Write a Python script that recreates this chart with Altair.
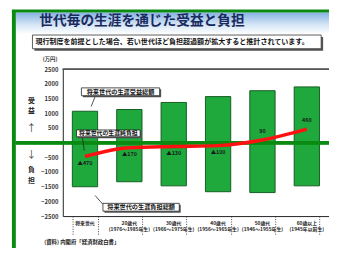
import altair as alt
import pandas as pd

# ---- data ----
categories = ["将来世代", "20歳代", "30歳代", "40歳代", "50歳代", "60歳以上"]
births = ["", "(1976～1985年生)", "(1966～1975年生)", "(1956～1965年生)", "(1946～1955年生)", "(1945年以前生)"]
benefit = [1070, 1130, 1370, 1570, 1770, 1900]
burden = [-1500, -1330, -1470, -1670, -1700, -1470]
net = [-470, -170, -130, -100, 90, 460]
y_ticks = [2500, 2000, 1500, 1000, 500, -500, -1000, -1500, -2000, -2500]

title_text = "世代毎の生涯を通じた受益と負担"
subtitle_text = "現行制度を前提とした場合、若い世代ほど負担超過額が拡大すると推計されています。"
unit_text = "(万円)"
callout_benefit = "将来世代の生涯受益総額"
callout_net = "将来世代の生涯純負担"
callout_burden = "将来世代の生涯負担総額"
footnote_text = "(資料) 内閣府「経済財政白書」"

FONT = "Noto Sans CJK JP"

def fmt(v):
    return ("▲" + str(abs(v))) if v < 0 else str(v)

df = pd.DataFrame({
    "cat": categories,
    "label": [c + ("|" + b if b else "") for c, b in zip(categories, births)],
    "benefit": benefit,
    "burden": burden,
    "net": net,
    "netlabel": [fmt(v) for v in net],
})
one = pd.DataFrame({"k": [0]})

W, H = 272, 150
xaxis = alt.Axis(labels=False, title=None, tickBand="extent", tickSize=20,
                 tickDash=[1, 1.5], tickColor="#444444", domainColor="#222222", grid=False)
xscale = alt.Scale(paddingInner=0.43, paddingOuter=0.215)
yaxis = alt.Axis(values=y_ticks, title=None, ticks=False, grid=False,
                 format="d", labelOverlap=False,
                 labelFontSize=6, labelFontWeight="bold", labelColor="#333333",
                 labelPadding=5, domainColor="#222222")
yscale = alt.Scale(domain=[-2500, 2500], nice=False, zero=False)

def X():
    return alt.X("cat:N", sort=categories, scale=xscale, axis=xaxis)

def Yf(field):
    return alt.Y(field, scale=yscale, axis=yaxis)

def Yd(v):
    return alt.Y(datum=v, scale=yscale, axis=yaxis)

def rect(x, x2, y, y2, **kw):
    return alt.Chart(one).mark_rect(**kw).encode(
        x=alt.value(x), x2=alt.value(x2), y=alt.value(y), y2=alt.value(y2))

def seg(x, x2, y, y2, **kw):
    return alt.Chart(one).mark_rule(**kw).encode(
        x=alt.value(x), x2=alt.value(x2), y=alt.value(y), y2=alt.value(y2))

def txt(s, x, y, **kw):
    return alt.Chart(one).mark_text(**kw).encode(
        x=alt.value(x), y=alt.value(y), text=alt.value(s))

# header & frame
header = rect(-48, 280, -58, -36,
              color=alt.LinearGradient(gradient="linear",
                                       stops=[alt.GradientStop(color="#86b3e2", offset=0),
                                              alt.GradientStop(color="#d3e4f5", offset=0.55),
                                              alt.GradientStop(color="#ffffff", offset=1)],
                                       x1=0, y1=0, x2=0, y2=1))
frame_left = seg(-50, -50, -60, 200, color="#0b8a12", strokeWidth=4)
frame_top = seg(-52, 300, -59.5, -59.5, color="#0b8a12", strokeWidth=3)
title = txt(title_text, -24, -49, align="left", baseline="middle", fontSize=14,
            fontWeight="bold", color="#1b2a5e")
sub_shadow = rect(-29, 266, -33, -19, color="#555555")
sub_box = rect(-31, 264, -35, -21, fill="white", stroke="#333333", strokeWidth=0.8)
subtitle = txt(subtitle_text, -28, -28, align="left", baseline="middle", fontSize=7.2,
               fontWeight="bold", color="#111111")

unit = txt(unit_text, -13, -10, align="center", baseline="middle", fontSize=5.5,
           fontWeight="bold", color="#333333")
vkw = dict(align="center", baseline="middle", fontSize=7, fontWeight="bold", color="#222222")
ben_1 = txt("受", -32, 32, **vkw)
ben_2 = txt("益", -32, 43, **vkw)
ben_arrow = txt("↑", -32, 61, align="center", baseline="middle", fontSize=10, color="#444444")
bur_arrow = txt("↓", -32, 88, align="center", baseline="middle", fontSize=10, color="#444444")
bur_1 = txt("負", -32, 103, **vkw)
bur_2 = txt("担", -32, 114, **vkw)

base = alt.Chart(df)
bars = base.mark_bar(color="#1fa83c", stroke="#145c22", strokeWidth=1).encode(
    x=X(), y=Yf("benefit:Q"), y2="burden:Q")
top_line = base.mark_rule(color="#555555", strokeWidth=1).encode(
    y=Yd(2500), x=alt.value(0), x2=alt.value(W + 4))
zero_line = base.mark_rule(color="#0b8a12", strokeWidth=3).encode(
    y=Yd(0), x=alt.value(-48), x2=alt.value(W + 10))
red_line = base.mark_line(color="#ff1111", strokeWidth=3.5, interpolate="monotone").encode(
    x=X(), y=Yf("net:Q"))
net_neg = base.transform_filter("datum.net < 0").mark_text(
    fontSize=5.5, fontWeight="bold", color="#1a1a1a", dy=7).encode(
    x=X(), y=Yf("net:Q"), text="netlabel:N")
net_pos = base.transform_filter("datum.net >= 0").mark_text(
    fontSize=5.5, fontWeight="bold", color="#1a1a1a", dy=-9).encode(
    x=X(), y=Yf("net:Q"), text="netlabel:N")
cat_labels = base.mark_text(lineBreak="|", lineHeight=6, fontSize=5, fontWeight="bold",
                            baseline="top", color="#222222").encode(
    x=X(), y=alt.value(H + 5), text="label:N")

# callouts
c1_line = seg(33, 29, 28, 38, color="#222222", strokeWidth=0.8)
c1_sh = rect(20.5, 100.5, 20.5, 28.5, color="#555555")
c1_box = rect(19, 99, 19, 27, fill="white", stroke="#222222", strokeWidth=0.8)
c1_txt = txt(callout_benefit, 59, 23, align="center", baseline="middle", fontSize=6.3,
             fontWeight="bold", color="#111111")
c2_line = seg(20, 22, 70, 83, color="#222222", strokeWidth=0.8)
c2_sh = rect(15.5, 80.5, 63.5, 70.5, color="#555555")
c2_box = rect(14, 79, 62, 69, fill="white", stroke="#222222", strokeWidth=0.8)
c2_txt = txt(callout_net, 46.5, 65.5, align="center", baseline="middle", fontSize=6,
             fontWeight="bold", color="#111111")
c3_line = seg(33, 41, 129, 138, color="#222222", strokeWidth=0.8)
c3_sh = rect(42.5, 120.5, 138.5, 146.5, color="#555555")
c3_box = rect(41, 119, 137, 145, fill="white", stroke="#222222", strokeWidth=0.8)
c3_txt = txt(callout_burden, 80, 141, align="center", baseline="middle", fontSize=6.3,
             fontWeight="bold", color="#111111")

foot = txt(footnote_text, -19, 177, align="left", baseline="middle", fontSize=5.5,
           fontWeight="bold", color="#222222")

chart = alt.layer(
    header, frame_left, frame_top, title, sub_shadow, sub_box, subtitle,
    unit, ben_1, ben_2, ben_arrow, bur_arrow, bur_1, bur_2,
    bars, top_line, zero_line, red_line, net_neg, net_pos, cat_labels,
    c1_line, c1_sh, c1_box, c1_txt,
    c2_line, c2_sh, c2_box, c2_txt,
    c3_line, c3_sh, c3_box, c3_txt,
    foot,
).properties(
    width=W, height=H,
    autosize=alt.AutoSizeParams(type="none"),
    padding={"left": 56, "top": 60, "right": 0, "bottom": 30},
    background="white",
).configure(font=FONT).configure_view(stroke=None).configure_axisY(labelOverlap=False)

chart.save("out.html", embed_options={"renderer": "svg", "actions": False})
